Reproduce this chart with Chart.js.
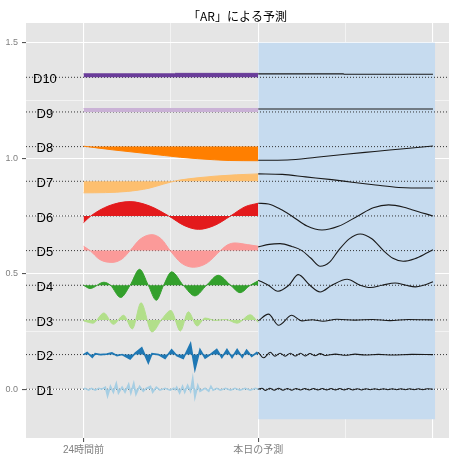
<!DOCTYPE html>
<html>
<head>
<meta charset="utf-8">
<script src="https://cdn.jsdelivr.net/npm/chart.js@4.4.1/dist/chart.umd.min.js"></script>
<style>
  html, body { margin: 0; padding: 0; background: #fff; }
</style>
</head>
<body>
<canvas id="arChart" width="449" height="457"></canvas>
<script>
// 成分名と基準線（各成分を0.15ずつずらして並べる）
const seriesNames = ['D1', 'D2', 'D3', 'D4', 'D5', 'D6', 'D7', 'D8', 'D9', 'D10'];
const baselines = [0, 0.15, 0.30, 0.45, 0.60, 0.75, 0.90, 1.05, 1.20, 1.35];
const pastColors = ['#A6CEE3', '#1F78B4', '#B2DF8A', '#33A02C', '#FB9A99',
                    '#E31A1C', '#FDBF6F', '#FF7F00', '#CAB2D6', '#6A3D9A'];

// 横軸は時間（-24 = 24時間前, 0 = 本日の予測開始）
const hourTicks = [-24, -12, 0, 12, 24];
const hourLabels = { '-24': '24時間前', '0': '本日の予測' };
const yTicks = [0, 0.25, 0.5, 0.75, 1, 1.25, 1.5];
const hourMin = -31.9, hourMax = 26.2;
const valueMin = -0.211, valueMax = 1.585;
const labelHour = -29.3;
const chartTitle = '「AR」による予測';

// 予測区間の背景
const bandStart = 0, bandEnd = 24.3, bandBottom = -0.13, bandTop = 1.5;

// 過去24時間の各成分 [時間, 基準線からの値]
const pastD1 = [[-24,0],[-23.8,0.004],[-23.3,-0.004],[-22.9,0.004],[-22.4,-0.004],[-21.9,0.004],[-21.5,0],
  [-21.0,0.009],[-20.7,-0.030],[-20.3,0.013],[-19.9,-0.013],[-19.5,0.026],[-19.2,-0.017],[-18.7,0.009],
  [-18.3,-0.013],[-17.8,0.022],[-17.5,-0.017],[-17.1,0.026],[-16.8,-0.022],[-16.3,0.013],[-15.8,-0.009],
  [-15.4,0.004],[-14.8,0.013],[-14.5,-0.013],[-14.0,0.009],[-13.5,-0.004],[-12.8,0.004],[-12.1,-0.004],
  [-11.6,0.004],[-11.4,-0.002],[-11.2,0.009],[-10.8,-0.017],[-10.4,0.013],[-10.1,-0.013],[-9.7,0.017],
  [-9.3,-0.009],[-9.0,0.048],[-8.7,-0.035],[-8.3,0.017],[-8.0,-0.009],[-7.3,0.004],[-6.8,-0.009],
  [-6.5,0.013],[-6.2,-0.004],[-5.7,0.004],[-5.2,-0.004],[-4.5,0.004],[-3.8,-0.004],[-3.2,0.004],
  [-2.5,-0.004],[-1.8,0.004],[-1.1,-0.004],[-0.4,0.004],[0,0]];
const pastD2 = [[-24,0],[-23.5,0.009],[-22.8,-0.012],[-22.4,0.004],[-21.7,0],[-20.8,0.002],[-20.1,0.007],
  [-19.4,-0.005],[-18.7,0],[-17.6,-0.019],[-16.9,0.006],[-16.0,0.029],[-15.1,-0.036],[-14.6,0.004],
  [-13.7,0],[-12.8,-0.017],[-11.9,0.021],[-11.2,-0.004],[-10.3,-0.017],[-9.3,0.048],[-8.7,-0.064],
  [-8.0,0.022],[-7.3,-0.015],[-6.6,0],[-5.7,0.022],[-5.0,-0.013],[-4.3,0.022],[-3.6,-0.013],
  [-2.9,0.022],[-2.2,-0.012],[-1.6,0.019],[-0.9,-0.008],[-0.2,0.009],[0,0.004]];
const pastD3 = [[-24,-0.004],[-22.7,-0.014],[-21.2,0.030],[-19.9,-0.019],[-18.5,0.020],[-17.3,-0.039],
  [-16.1,0.074],[-14.6,-0.052],[-13.2,0.005],[-12.0,0.041],[-10.7,-0.048],[-9.6,0.035],[-8.4,-0.026],
  [-7.3,0.008],[-5.9,-0.002],[-4.5,0.002],[-2.9,-0.014],[-1.1,0.022],[0,-0.011]];
const pastD4 = [[-24,0],[-23.1,-0.014],[-21.2,0.013],[-20.3,0],[-18.9,-0.053],[-17.6,0],[-16.3,0.069],
  [-15.1,0],[-14.0,-0.065],[-13.0,0],[-11.9,0.058],[-10.3,0],[-8.7,-0.046],[-7.1,0],[-5.5,0.043],
  [-3.8,0],[-2.5,-0.032],[-1.1,0],[0,0.019]];
const pastD5 = [[-24,0.019],[-23.1,0],[-21.8,-0.038],[-20.1,-0.051],[-18.7,-0.036],[-17.6,0],[-16.2,0.050],
  [-14.6,0.069],[-13.3,0.050],[-12.1,0],[-10.6,-0.053],[-8.9,-0.072],[-7.0,-0.053],[-5.2,0],
  [-4.2,0.025],[-3.2,0.033],[-1.5,0.026],[0,0.019]];
const pastD6 = [[-24,-0.029],[-23,0],[-20.5,0.044],[-17.6,0.062],[-15,0.044],[-12.3,0],[-10.2,-0.041],
  [-8.2,-0.058],[-6,-0.041],[-3.8,0],[-1.8,0.040],[0,0.055]];
const pastD7 = [[-24,-0.050],[-21,-0.049],[-18,-0.044],[-15,-0.030],[-13,-0.012],[-11,0.004],[-8,0.016],
  [-6,0.022],[-3,0.028],[0,0.032]];
const pastD8 = [[-24,0.002],[-20,-0.014],[-15,-0.031],[-10.7,-0.046],[-6,-0.057],[-4,-0.060],[0,-0.061]];
const pastD9 = [[-24,0.015],[0,0.015]];
const pastD10 = [[-24,0.015],[-11.5,0.015],[-11.4,0.017],[0,0.017]];

// ARモデルによる本日の予測
const fcstD1 = [[0,0],[0.5,0.004],[1.0,-0.005],[1.6,0.004],[2.2,-0.004],[2.8,0.004],[3.4,-0.004],
  [4.0,0.003],[4.6,-0.004],[5.2,0.003],[5.8,-0.003],[6.4,0.003],[7.0,-0.003],[7.6,0.003],[8.2,-0.003],
  [8.8,0.003],[9.4,-0.003],[10.0,0.003],[10.6,-0.003],[11.2,0.003],[11.8,-0.003],[12.4,0.003],
  [13.0,-0.003],[13.6,0.002],[14.2,-0.003],[14.8,0.002],[15.4,-0.002],[16.0,0.002],[16.6,-0.002],
  [17.2,0.002],[17.8,-0.002],[18.4,0.002],[19.0,-0.002],[19.6,0.002],[20.2,-0.002],[20.8,0.002],
  [21.4,-0.002],[22.0,0.002],[22.6,-0.002],[23.2,0.002],[24,0]];
const fcstD2 = [[0,0.010],[0.73,-0.014],[1.65,0.010],[2.3,-0.007],[3.0,0.006],[3.7,-0.007],[4.4,0.006],
  [5.1,-0.006],[5.8,0.006],[6.5,-0.006],[7.1,0.005],[7.8,-0.005],[8.5,0.004],[9.2,-0.004],[10.6,0.002],
  [12.0,-0.003],[13.3,0.002],[14.7,-0.002],[16.5,0.001],[18.4,-0.002],[21.1,0.001],[24,0]];
const fcstD3 = [[0,-0.004],[1.4,0.025],[2.8,-0.023],[4.6,0.020],[6.0,-0.004],[7.4,0.001],[8.9,-0.006],
  [10.8,0.003],[13.3,-0.001],[15.7,0.002],[18.1,-0.003],[20.6,0.002],[24,0]];
const fcstD4 = [[0,0.022],[1.4,0],[2.7,-0.026],[4.2,0],[5.5,0.046],[7.1,0],[8.5,-0.029],[10.1,0],
  [12.2,0.026],[14,0],[15.4,-0.010],[17,0],[18.8,0.010],[20.3,0],[21.6,-0.007],[22.7,0],[24,0.015]];
const fcstD5 = [[0,0.016],[1.5,0.027],[3.0,0.030],[4.6,0.018],[6.0,0],[7.2,-0.032],[8.5,-0.068],
  [9.8,-0.050],[11.0,0],[12.5,0.051],[14.0,0.072],[15.6,0.051],[17.2,0],[18.5,-0.033],[19.9,-0.046],
  [21.5,-0.035],[23,-0.013],[24,0.004]];
const fcstD6 = [[0,0.055],[1.4,0.052],[3,0.030],[4.6,0],[6.7,-0.044],[8.75,-0.061],[11,-0.045],[13.7,0],
  [15.8,0.035],[17.9,0.048],[20,0.038],[21.1,0.027],[24,0]];
const fcstD7 = [[0,0.032],[3.3,0.030],[6.5,0.019],[10.1,0.007],[12.9,-0.004],[16.1,-0.016],[19.3,-0.027],
  [21,-0.029],[24,-0.029]];
const fcstD8 = [[0,-0.059],[4,-0.058],[8,-0.046],[12,-0.033],[16,-0.021],[20,-0.009],[24,0.003]];
const fcstD9 = [[0,0.013],[24,0.013]];
const fcstD10 = [[0,0.015],[11.7,0.015],[11.8,0.013],[24,0.013]];

const pastSeries = [pastD1, pastD2, pastD3, pastD4, pastD5, pastD6, pastD7, pastD8, pastD9, pastD10];
const forecastSeries = [fcstD1, fcstD2, fcstD3, fcstD4, fcstD5, fcstD6, fcstD7, fcstD8, fcstD9, fcstD10];

const majorHour = h => h % 24 === 0;
const majorValue = v => Math.abs(v * 2 - Math.round(v * 2)) < 1e-6;

const datasets = [];
// 予測区間（水色の帯）
datasets.push({
  label: 'band',
  data: [{ x: bandStart, y: bandTop }, { x: bandEnd, y: bandTop }],
  fill: { value: bandBottom },
  backgroundColor: '#C6DBEF',
  borderWidth: 0, pointRadius: 0, order: 4
});

seriesNames.forEach((name, i) => {
  const b = baselines[i];
  // 基準線（点線）
  datasets.push({
    label: name + ' base',
    data: [{ x: hourMin, y: b }, { x: hourMax, y: b }],
    borderColor: '#333', borderWidth: 1, borderDash: [1, 2],
    pointRadius: 0, fill: false, order: 3
  });
  const spiky = i < 2;
  datasets.push({
    label: name,
    data: pastSeries[i].map(([h, v]) => ({ x: h, y: b + v })),
    fill: { value: b },
    backgroundColor: pastColors[i], borderColor: pastColors[i],
    borderWidth: spiky ? 1.6 : 1,
    pointRadius: 0, order: 2,
    tension: spiky ? 0 : 0.4,
    cubicInterpolationMode: spiky ? 'default' : 'monotone'
  });
  datasets.push({
    label: name + ' AR',
    data: forecastSeries[i].map(([h, v]) => ({ x: h, y: b + v })),
    borderColor: '#1a1a1a', borderWidth: 1.1,
    pointRadius: 0, fill: false, order: 1,
    tension: 0.4, cubicInterpolationMode: 'monotone'
  });
});

// パネル背景・タイトル・成分ラベル
const panelPlugin = {
  id: 'panel',
  beforeDraw(chart) {
    const { ctx, chartArea: a } = chart;
    ctx.save();
    ctx.fillStyle = '#E5E5E5';
    ctx.fillRect(a.left, a.top, a.right - a.left, a.bottom - a.top);
    ctx.restore();
  },
  afterDraw(chart) {
    const { ctx, chartArea: a, scales } = chart;
    ctx.save();
    ctx.fillStyle = '#000';
    ctx.textAlign = 'center';
    ctx.textBaseline = 'middle';
    ctx.font = '12px "Noto Sans CJK JP", sans-serif';
    ctx.fillText(chartTitle, (a.left + a.right) / 2, 16.5);
    ctx.font = '13px "Liberation Sans", Arial, sans-serif';
    const lx = scales.x.getPixelForValue(labelHour);
    seriesNames.forEach((name, i) => {
      ctx.fillText(name, lx, scales.y.getPixelForValue(baselines[i]) + 2);
    });
    ctx.restore();
  }
};

new Chart(document.getElementById('arChart').getContext('2d'), {
  type: 'line',
  data: { datasets },
  options: {
    responsive: false,
    animation: false,
    events: [],
    layout: { padding: { top: 23, right: 0, left: 0, bottom: 0 } },
    plugins: { legend: { display: false }, tooltip: { enabled: false }, title: { display: false } },
    scales: {
      x: {
        type: 'linear', min: hourMin, max: hourMax,
        afterBuildTicks: s => { s.ticks = hourTicks.map(v => ({ value: v })); },
        afterFit: s => { s.height = 19; },
        border: { display: false },
        grid: {
          color: '#fff',
          lineWidth: c => (c.tick && majorHour(c.tick.value)) ? 1.1 : 0.55,
          tickColor: c => (c.tick && hourLabels[String(c.tick.value)]) ? '#555' : 'rgba(0,0,0,0)',
          tickLength: 4
        },
        ticks: {
          autoSkip: false, maxRotation: 0, padding: 2, color: '#7F7F7F',
          font: { size: 10, family: '"Liberation Sans", "Noto Sans CJK JP", sans-serif' },
          callback: v => hourLabels[String(v)] || ''
        }
      },
      y: {
        type: 'linear', min: valueMin, max: valueMax,
        afterBuildTicks: s => { s.ticks = yTicks.map(v => ({ value: v })); },
        afterFit: s => { s.width = 26; },
        border: { display: false },
        grid: {
          color: '#fff',
          lineWidth: c => (c.tick && majorValue(c.tick.value)) ? 1.1 : 0.55,
          tickColor: c => (c.tick && majorValue(c.tick.value)) ? '#555' : 'rgba(0,0,0,0)',
          tickLength: 4
        },
        ticks: {
          autoSkip: false, padding: 4, color: '#7F7F7F',
          font: { size: 9, family: '"Liberation Sans", sans-serif' },
          callback: v => majorValue(v) ? v.toFixed(1) : ''
        }
      }
    }
  },
  plugins: [panelPlugin]
});
</script>
</body>
</html>
